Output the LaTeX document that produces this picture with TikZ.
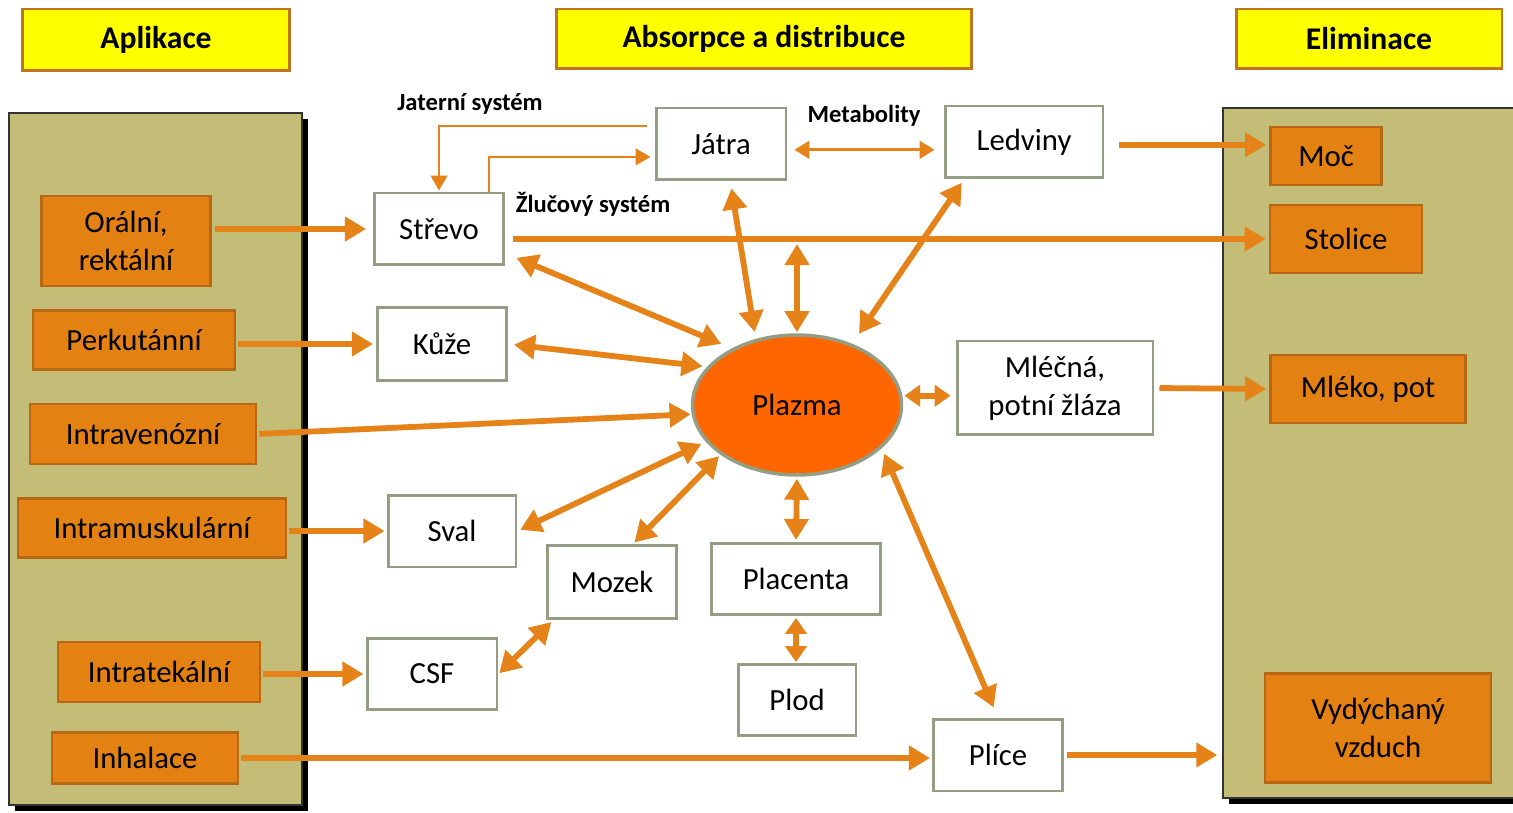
\documentclass[tikz,border=0pt]{standalone}
\usepackage{fontspec}
\setmainfont{Carlito}
\usetikzlibrary{arrows.meta,shapes.geometric,shadows}
\definecolor{hdryellow}{RGB}{255,255,0}
\definecolor{hdrborder}{RGB}{191,116,36}
\definecolor{panelkhaki}{RGB}{195,189,119}
\definecolor{routeorange}{RGB}{227,129,18}
\definecolor{routeborder}{RGB}{184,104,20}
\definecolor{organgray}{RGB}{147,158,133}
\definecolor{flowline}{RGB}{229,131,25}
\definecolor{plasmaorange}{RGB}{255,102,0}

\begin{document}
\begin{tikzpicture}[x=0.02cm,y=-0.02cm,
    every node/.style={font=\fontsize{17.5}{21.5}\selectfont},
    header/.style={draw=hdrborder,line width=1.7pt,fill=hdryellow,font=\fontsize{18}{22}\selectfont\bfseries},
    panel/.style={draw=black!80,line width=0.8pt,fill=panelkhaki,inner sep=0pt,
      general shadow={fill=black,shadow xshift=0.12cm,shadow yshift=-0.12cm}},
    route/.style={draw=routeborder,line width=1.5pt,fill=routeorange,align=center,inner sep=0pt},
    organ/.style={draw=organgray,line width=1.7pt,fill=white,align=center,inner sep=0pt},
    tag/.style={font=\fontsize{14}{16}\selectfont\bfseries},
    flow/.style={draw=flowline,line width=3.3pt,-{Triangle[length=12pt,width=13.5pt]}},
    both/.style={draw=flowline,line width=3.3pt,{Triangle[length=12pt,width=13.5pt]}-{Triangle[length=12pt,width=13.5pt]}},
    shortboth/.style={draw=flowline,line width=3.3pt,{Triangle[length=9pt,width=12pt]}-{Triangle[length=9pt,width=12pt]}},
    thinboth/.style={draw=flowline,line width=1.8pt,{Triangle[length=8.5pt,width=10pt]}-{Triangle[length=8.5pt,width=10pt]}},
    duct/.style={draw=flowline,line width=1.1pt,-{Triangle[length=8.5pt,width=9.5pt]}}]
  \useasboundingbox (0,0) rectangle (1513,813);

  \node[header,minimum width=5.34cm,minimum height=1.24cm] (aplik) at (156,40) {Aplikace};
  \node[header,minimum width=8.32cm,minimum height=1.2cm] (absorp) at (764,39) {Absorpce a distribuce};
  \node[header,minimum width=5.32cm,minimum height=1.2cm] (elimin) at (1369,39) {Eliminace};

  \node[panel,minimum width=5.86cm,minimum height=13.84cm] (apppanel) at (155.5,459) {};
  \node[panel,minimum width=5.94cm,minimum height=13.8cm] (elimpanel) at (1371.5,453) {};

  \node[route,minimum width=3.38cm,minimum height=1.8cm] (oral) at (126,241) {Orální,\\ rektální};
  \node[route,minimum width=4.04cm,minimum height=1.18cm] (perk) at (134,340) {Perkutánní};
  \node[route,minimum width=4.52cm,minimum height=1.2cm] (iv) at (143,434) {Intravenózní};
  \node[route,minimum width=5.36cm,minimum height=1.18cm] (im) at (152,528) {Intramuskulární};
  \node[route,minimum width=4.04cm,minimum height=1.2cm] (it) at (159,672) {Intratekální};
  \node[route,minimum width=3.72cm,minimum height=1.02cm] (inh) at (145,758) {Inhalace};

  \node[route,minimum width=2.22cm,minimum height=1.16cm] (moc) at (1326,156) {Moč};
  \node[route,minimum width=3.04cm,minimum height=1.36cm] (stolice) at (1346,239) {Stolice};
  \node[route,minimum width=3.9cm,minimum height=1.36cm] (mleko) at (1368,389) {Mléko, pot};
  \node[route,minimum width=4.52cm,minimum height=2.18cm] (vzduch) at (1378,728) {Vydýchaný\\ vzduch};

  \node[organ,minimum width=2.58cm,minimum height=1.44cm] (strevo) at (439,229) {Střevo};
  \node[organ,minimum width=2.58cm,minimum height=1.46cm] (kuze) at (442,344) {Kůže};
  \node[organ,minimum width=2.56cm,minimum height=1.44cm] (sval) at (452,531) {Sval};
  \node[organ,minimum width=2.6cm,minimum height=1.42cm] (csf) at (432,674) {CSF};
  \node[organ,minimum width=2.58cm,minimum height=1.46cm] (mozek) at (612,582) {Mozek};
  \node[organ,minimum width=3.38cm,minimum height=1.42cm] (placenta) at (796,579) {Placenta};
  \node[organ,minimum width=2.36cm,minimum height=1.42cm] (plod) at (797,700) {Plod};
  \node[organ,minimum width=2.58cm,minimum height=1.44cm] (plice) at (998,755) {Plíce};
  \node[organ,minimum width=2.6cm,minimum height=1.44cm] (jatra) at (721,144) {Játra};
  \node[organ,minimum width=3.16cm,minimum height=1.44cm] (ledviny) at (1024,142) {Ledviny};
  \node[organ,minimum width=3.92cm,minimum height=1.88cm] (zlaza) at (1055,388) {Mléčná,\\ potní žláza};

  \node[ellipse,draw=organgray,line width=2pt,fill=plasmaorange,inner sep=0pt,
    minimum width=4.18cm,minimum height=2.8cm] (plazma) at (797,405) {Plazma};

  \node[tag] (jatsys) at (470,104) {Jaterní systém};
  \node[tag] (metab) at (864,116) {Metabolity};
  \node[tag] (zlucsys) at (593,204) {Žlučový systém};

  \draw[flow,shorten <=0.06cm,shorten >=0.14cm] (oral.east |- strevo.west) -- (strevo.west);
  \draw[flow,shorten <=0.04cm,shorten >=0.06cm] (perk.east |- kuze.west) -- (kuze.west);
  \draw[flow,shorten <=0.04cm,shorten >=0.02cm] (iv.east) -- (plazma.185);
  \draw[flow,shorten <=0.04cm,shorten >=0.04cm] (im.east |- sval.west) -- (sval.west);
  \draw[flow,shorten <=0.04cm,shorten >=0.04cm] (it.east |- csf.west) -- (csf.west);
  \draw[flow,shorten <=0.04cm,shorten >=0.04cm] (inh.east) -- (inh.east -| plice.west);
  \draw[flow,line width=3.8pt,shorten <=0.16cm,shorten >=0.06cm] (strevo.east |- stolice.west) -- (stolice.west);
  \draw[flow,shorten <=0.3cm,shorten >=0.06cm] (ledviny.-2) -- (ledviny.-2 -| moc.west);
  \draw[flow,shorten <=0.1cm,shorten >=0.06cm] (zlaza.east) -- (mleko.west);
  \draw[flow,shorten <=0.06cm,shorten >=0.1cm] (plice.east) -- (plice.east -| elimpanel.west);

  \draw[both,shorten <=0.25cm,shorten >=0.23cm] (strevo.-20) -- (plazma.139);
  \draw[both,shorten <=0.12cm,shorten >=0.09cm] (kuze.east) -- (plazma.157);
  \draw[both,shorten <=0.06cm,shorten >=0.1cm] (sval.east) -- (plazma.202);
  \draw[both,shorten <=0.04cm,shorten >=0.04cm] (mozek.61) -- (plazma.213);
  \draw[both,shorten <=0.02cm,shorten >=0.06cm] (csf.east) -- (mozek.213);
  \draw[both,shorten <=0.04cm,shorten >=0.04cm] (placenta.north) -- (plazma.south);
  \draw[shortboth,shorten <=0.04cm,shorten >=0.02cm] (placenta.south) -- (placenta.south |- plod.north);
  \draw[both,shorten <=0.22cm,shorten >=0.12cm] (plice.north) -- (plazma.333);
  \draw[shortboth,shorten <=0.04cm,shorten >=0.1cm] (plazma.5) -- (plazma.5 -| zlaza.west);
  \draw[both,shorten <=0.14cm,shorten >=0.14cm] (jatra.284) -- (plazma.122);
  \draw[both,shorten <=0.08cm,shorten >=0.24cm] (ledviny.212) -- (plazma.48);
  \coordinate (tap) at (plazma.north |- stolice.west);
  \draw[both,shorten <=0.02cm,shorten >=0.1cm] (plazma.north) -- (tap);

  \draw[thinboth,shorten <=0.14cm,shorten >=0.18cm] (jatra.-5) -- (jatra.-5 -| ledviny.west);
  \draw[duct,shorten <=0.16cm,shorten >=0.02cm] (jatra.165) -| (strevo.north);
  \draw[duct,shorten >=0.08cm] (strevo.37) |- (jatra.191);
\end{tikzpicture}
\end{document}
